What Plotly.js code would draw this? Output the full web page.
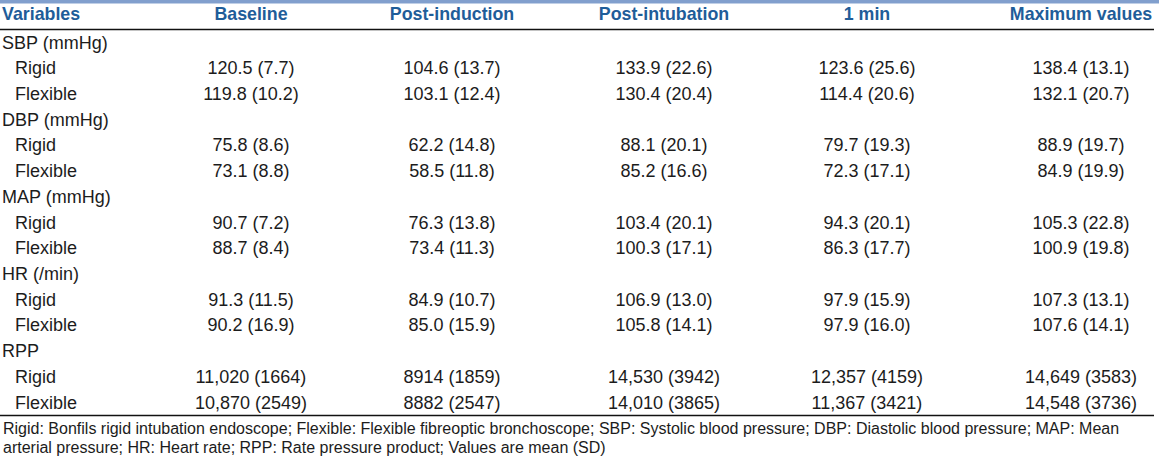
<!DOCTYPE html>
<html>
<head>
<meta charset="utf-8">
<script src="https://cdn.plot.ly/plotly-3.0.1.min.js"></script>
<style>
  html, body { margin: 0; padding: 0; background: #ffffff; }
  #chart { width: 1159px; height: 461px; }
</style>
</head>
<body>
<div id="chart"></div>
<script>
// ---------------- DATA ----------------
const stubHeader = 'Variables';
const timePoints = ['Baseline', 'Post-induction', 'Post-intubation', '1 min', 'Maximum values'];
const variables = ['SBP (mmHg)', 'DBP (mmHg)', 'MAP (mmHg)', 'HR (/min)', 'RPP'];
const devices = ['Rigid', 'Flexible'];

const sbpRigidMean = [120.5, 104.6, 133.9, 123.6, 138.4];
const sbpRigidSD   = [7.7, 13.7, 22.6, 25.6, 13.1];
const sbpFlexMean  = [119.8, 103.1, 130.4, 114.4, 132.1];
const sbpFlexSD    = [10.2, 12.4, 20.4, 20.6, 20.7];

const dbpRigidMean = [75.8, 62.2, 88.1, 79.7, 88.9];
const dbpRigidSD   = [8.6, 14.8, 20.1, 19.3, 19.7];
const dbpFlexMean  = [73.1, 58.5, 85.2, 72.3, 84.9];
const dbpFlexSD    = [8.8, 11.8, 16.6, 17.1, 19.9];

const mapRigidMean = [90.7, 76.3, 103.4, 94.3, 105.3];
const mapRigidSD   = [7.2, 13.8, 20.1, 20.1, 22.8];
const mapFlexMean  = [88.7, 73.4, 100.3, 86.3, 100.9];
const mapFlexSD    = [8.4, 11.3, 17.1, 17.7, 19.8];

const hrRigidMean  = [91.3, 84.9, 106.9, 97.9, 107.3];
const hrRigidSD    = [11.5, 10.7, 13.0, 15.9, 13.1];
const hrFlexMean   = [90.2, 85.0, 105.8, 97.9, 107.6];
const hrFlexSD     = [16.9, 15.9, 14.1, 16.0, 14.1];

const rppRigidMean = [11020, 8914, 14530, 12357, 14649];
const rppRigidSD   = [1664, 1859, 3942, 4159, 3583];
const rppFlexMean  = [10870, 8882, 14010, 11367, 14548];
const rppFlexSD    = [2549, 2547, 3865, 3421, 3736];

const footnoteLines = [
  'Rigid: Bonfils rigid intubation endoscope; Flexible: Flexible fibreoptic bronchoscope; SBP: Systolic blood pressure; DBP: Diastolic blood pressure; MAP: Mean',
  'arterial pressure; HR: Heart rate; RPP: Rate pressure product; Values are mean (SD)'
];

// ---------------- LAYOUT CONSTANTS ----------------
const W = 1159, H = 461;
const columnCenters = [251, 452, 664, 867, 1081];
const stubX = 2, indentX = 15;
const headerY = 16, firstRowY = 44, rowPitch = 25.72;
const headerLineY = 29.5, bottomLineY = 415.5, lineEndX = 1154;
const footY0 = 428.5, footPitch = 19;
const FONT = 'Liberation Sans, Arial, Helvetica, sans-serif';
const HEADER_COLOR = '#1f5d99';
const TEXT_COLOR = '#1c1c1c';
const FS_HEAD = 17.8, FS = 18, FS_FOOT = 16;

// ---------------- BUILD ----------------
const seriesByVar = [
  [[sbpRigidMean, sbpRigidSD], [sbpFlexMean, sbpFlexSD]],
  [[dbpRigidMean, dbpRigidSD], [dbpFlexMean, dbpFlexSD]],
  [[mapRigidMean, mapRigidSD], [mapFlexMean, mapFlexSD]],
  [[hrRigidMean, hrRigidSD], [hrFlexMean, hrFlexSD]],
  [[rppRigidMean, rppRigidSD], [rppFlexMean, rppFlexSD]]
];

function fmtMean(v, isInt) {
  if (!isInt) return v.toFixed(1);
  if (v >= 10000) return Math.floor(v / 1000) + ',' + String(v % 1000).padStart(3, '0');
  return String(v);
}
function fmtSD(v, isInt) { return isInt ? String(v) : v.toFixed(1); }

const groupX = [], groupY = [], groupT = [];
const subX = [], subY = [], subT = [];
const cellX = [], cellY = [], cellT = [];

let row = 0;
variables.forEach((v, vi) => {
  groupX.push(stubX); groupY.push(firstRowY + rowPitch * row); groupT.push(v);
  row++;
  const isInt = v === 'RPP';
  devices.forEach((d, di) => {
    const y = firstRowY + rowPitch * row;
    subX.push(indentX); subY.push(y); subT.push(d);
    const [means, sds] = seriesByVar[vi][di];
    timePoints.forEach((tp, ci) => {
      cellX.push(columnCenters[ci]); cellY.push(y);
      cellT.push(fmtMean(means[ci], isInt) + ' (' + fmtSD(sds[ci], isInt) + ')');
    });
    row++;
  });
});

const textFont = {family: FONT, size: FS, color: TEXT_COLOR};
const traces = [
  {type: 'scatter', mode: 'text', x: [stubX], y: [headerY], text: [stubHeader],
   textposition: 'middle right', hoverinfo: 'skip', showlegend: false,
   textfont: {family: FONT, size: FS_HEAD, color: HEADER_COLOR, weight: 700}},
  {type: 'scatter', mode: 'text', x: columnCenters, y: timePoints.map(() => headerY), text: timePoints,
   textposition: 'middle center', hoverinfo: 'skip', showlegend: false,
   textfont: {family: FONT, size: FS_HEAD, color: HEADER_COLOR, weight: 700}},
  {type: 'scatter', mode: 'text', x: groupX, y: groupY, text: groupT,
   textposition: 'middle right', hoverinfo: 'skip', showlegend: false, textfont: textFont},
  {type: 'scatter', mode: 'text', x: subX, y: subY, text: subT,
   textposition: 'middle right', hoverinfo: 'skip', showlegend: false, textfont: textFont},
  {type: 'scatter', mode: 'text', x: cellX, y: cellY, text: cellT,
   textposition: 'middle center', hoverinfo: 'skip', showlegend: false, textfont: textFont}
];

const layout = {
  width: W, height: H,
  margin: {l: 0, r: 0, t: 0, b: 0, pad: 0},
  paper_bgcolor: '#ffffff', plot_bgcolor: '#ffffff',
  showlegend: false,
  xaxis: {range: [0, W], visible: false, fixedrange: true},
  yaxis: {range: [H, 0], visible: false, fixedrange: true},
  shapes: [
    {type: 'rect', xref: 'x', yref: 'y', x0: 0, x1: W, y0: 0, y1: 3.5, fillcolor: '#819fcd', line: {width: 0}, layer: 'below'},
    {type: 'line', xref: 'x', yref: 'y', x0: 0, x1: lineEndX, y0: headerLineY, y1: headerLineY, line: {color: '#111111', width: 1.3}},
    {type: 'line', xref: 'x', yref: 'y', x0: 0, x1: lineEndX, y0: bottomLineY, y1: bottomLineY, line: {color: '#111111', width: 1.3}}
  ],
  annotations: footnoteLines.map((t, i) => ({
    xref: 'x', yref: 'y', x: 1, y: footY0 + footPitch * i, xanchor: 'left', yanchor: 'middle', align: 'left',
    showarrow: false, text: t, font: {family: FONT, size: FS_FOOT, color: TEXT_COLOR}
  }))
};

Plotly.newPlot('chart', traces, layout, {staticPlot: true, displayModeBar: false});
</script>
</body>
</html>
